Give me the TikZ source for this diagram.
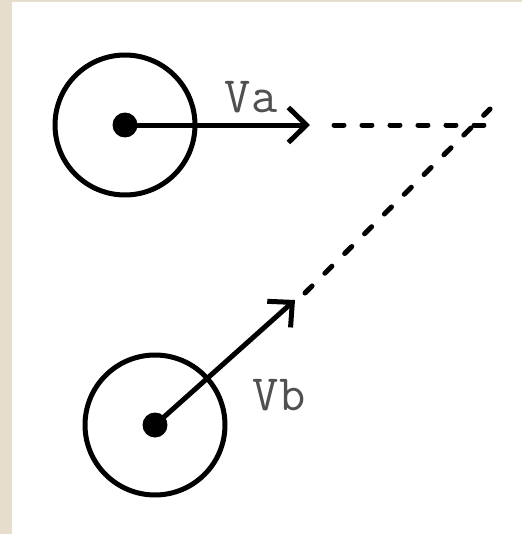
\documentclass[tikz,border=0pt]{standalone}
\usepackage{tikz}
\usetikzlibrary{arrows.meta}
\definecolor{paper}{RGB}{230,221,204}
\definecolor{ink}{RGB}{0,0,0}
\definecolor{lgray}{RGB}{80,80,80}
\tikzset{
  wheel/.style ={circle, draw=ink, line width=0.1cm, minimum size=2.8cm,
                 inner sep=0pt},
  hub/.style   ={circle, fill=ink, minimum size=0.5cm, inner sep=0pt},
  vec/.style   ={-{Straight Barb[length=3.6mm,width=7mm]}, draw=ink,
                 line width=0.1cm, line cap=round, line join=round},
  guide/.style ={draw=ink, line width=0.1cm, line cap=round,
                 dash pattern=on 0.2cm off 0.36cm},
  lbl/.style   ={font=\ttfamily\fontsize{29}{29}\selectfont, text=lgray,
                 inner sep=0pt}
}

\begin{document}
\begin{tikzpicture}[x=0.02cm, y=-0.02cm]
% page
\fill[paper] (0,0) rectangle (522,534);
\fill[white] (12,2) rectangle (522,534);
\useasboundingbox (0,0) rectangle (522,534);

% wheels
\node[wheel] (wa) at (125,125) {};
\node[hub] (ha) at (wa.center) {};
\node[wheel] (wb) at (155,425) {};
\node[hub] (hb) at (wb.center) {};

% velocity vectors
\coordinate (ta) at (310,125);
\coordinate (tb) at (295,300);
\draw[vec] (ha.center) -- (ta);
\draw[vec] (hb.center) -- (tb);

% extensions
\coordinate (ea) at (334,125);
\coordinate (xa) at (490,125);
\coordinate (eb) at (305,293);
\coordinate (xb) at (490,109);
\draw[guide] (ea) -- (xa);
\draw[guide] (eb) -- (xb);

\node[lbl] (va) at (251,97) {Va};
\node[lbl] (vb) at (279,395) {Vb};
\end{tikzpicture}
\end{document}
